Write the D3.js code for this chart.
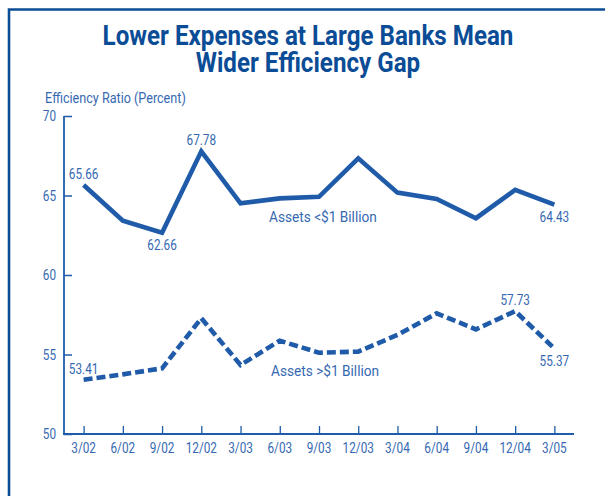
<!DOCTYPE html>
<html><head><meta charset="utf-8">
<script src="https://cdn.jsdelivr.net/npm/d3@7"></script>
<style>
html,body{margin:0;padding:0;background:#fff;}
svg{display:block;}
text{font-family:Roboto,"Liberation Sans",sans-serif;}
</style></head>
<body>
<script>
const quarters = ["3/02","6/02","9/02","12/02","3/03","6/03","9/03","12/03","3/04","6/04","9/04","12/04","3/05"];
const smallBanks = [65.66,63.42,62.66,67.78,64.51,64.82,64.92,67.34,65.18,64.78,63.57,65.35,64.43];
const largeBanks = [53.41,53.75,54.13,57.28,54.34,55.87,55.11,55.18,56.23,57.59,56.58,57.73,55.37];
const yTicks = [50,55,60,65,70];
const titleLines = ["Lower Expenses at Large Banks Mean","Wider Efficiency Gap"];
const yTitle = "Efficiency Ratio (Percent)";
const seriesNames = ["Assets <$1 Billion","Assets >$1 Billion"];
// labelled points: [seriesIndex, pointIndex, position]
const labelled = [[0,0,"above"],[0,2,"below"],[0,3,"above"],[0,12,"below"],[1,0,"above"],[1,11,"above"],[1,12,"below"]];

const W=605,H=496;
const dark="#0b4c96", lineC="#1f5ba8", textC="#3669b1";
const svg=d3.select("body").append("svg").attr("width",W).attr("height",H);

// condense text horizontally (reference uses a condensed face)
function condense(sel,k){
  sel.each(function(){const w=this.getComputedTextLength();
    d3.select(this).attr("textLength",w*k).attr("lengthAdjust","spacingAndGlyphs");});
}

// frame
svg.append("path").attr("d",`M9,${H} V9.5 H${W}`).attr("fill","none").attr("stroke",dark).attr("stroke-width",2.6);

// title
svg.append("g").selectAll("text").data(titleLines).join("text")
  .attr("x",308).attr("y",(d,i)=>45+i*27.3).attr("text-anchor","middle")
  .attr("font-size",27).attr("font-weight","bold").attr("fill",dark).text(d=>d)
  .call(condense,0.895);

svg.append("text").attr("x",45).attr("y",102.5).attr("font-size",14).attr("fill",textC).text(yTitle).call(condense,0.9);

const x=d3.scalePoint().domain(quarters).range([64,574]).padding(0.5);
const y=d3.scaleLinear().domain([50,70]).range([434,116]);

// y axis
const ya=svg.append("g").attr("transform","translate(64,0)")
  .call(d3.axisRight(y).tickValues(yTicks).tickSize(8).tickFormat(""));
ya.select(".domain").remove();
svg.append("line").attr("x1",64).attr("x2",64).attr("y1",116).attr("y2",434).attr("stroke",lineC).attr("stroke-width",1.8);
ya.selectAll("line").attr("stroke",lineC).attr("stroke-width",1.5);
svg.append("g").selectAll("text").data(yTicks).join("text")
  .attr("x",56).attr("y",d=>y(d)+5).attr("text-anchor","end")
  .attr("font-size",14).attr("fill",textC).text(d=>d).call(condense,0.84);

// x axis
const xa=svg.append("g").attr("transform","translate(0,434)")
  .call(d3.axisTop(x).tickSize(8).tickFormat(""));
xa.select(".domain").remove();
xa.selectAll("line").attr("stroke",lineC).attr("stroke-width",1.3);
svg.append("line").attr("x1",63).attr("x2",574).attr("y1",434).attr("y2",434).attr("stroke",lineC).attr("stroke-width",1.8);
svg.append("g").selectAll("text").data(quarters).join("text")
  .attr("x",d=>x(d)).attr("y",453).attr("text-anchor","middle")
  .attr("font-size",14).attr("fill",textC).text(d=>d).call(condense,0.84);

const line=d3.line().x((d,i)=>x(quarters[i])).y(d=>y(d));
svg.append("path").datum(smallBanks).attr("d",line).attr("fill","none")
  .attr("stroke",lineC).attr("stroke-width",4.6).attr("stroke-linejoin","miter");
svg.append("path").datum(largeBanks).attr("d",line).attr("fill","none")
  .attr("stroke",lineC).attr("stroke-width",4.6).attr("stroke-dasharray","9,4").attr("stroke-linejoin","miter");

// series labels
svg.append("text").attr("x",269).attr("y",222).attr("font-size",15).attr("fill",textC).text(seriesNames[0]).call(condense,0.91);
svg.append("text").attr("x",271).attr("y",376).attr("font-size",15).attr("fill",textC).text(seriesNames[1]).call(condense,0.91);

// value labels
const series=[smallBanks,largeBanks];
svg.append("g").selectAll("text").data(labelled).join("text")
  .attr("x",d=>x(quarters[d[1]]))
  .attr("y",d=>y(series[d[0]][d[1]]) + (d[2]==="above"?-6:17))
  .attr("text-anchor","middle").attr("font-size",14).attr("fill",textC)
  .text(d=>series[d[0]][d[1]].toFixed(2)).call(condense,0.84);
</script>
</body></html>
